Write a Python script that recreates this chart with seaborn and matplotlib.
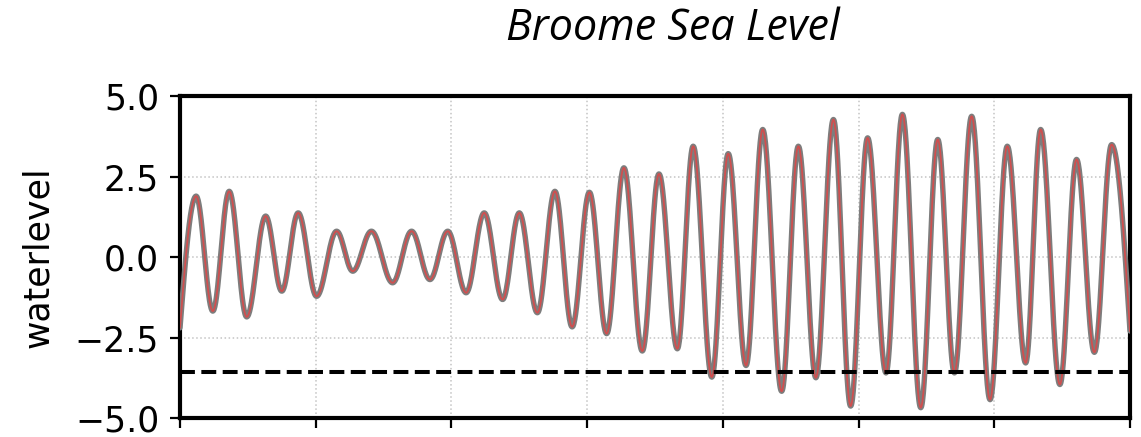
import numpy as np
import pandas as pd
import matplotlib
matplotlib.use("Agg")
import matplotlib.pyplot as plt
import seaborn as sns

# Successive high / low water turning points: hours since start, level (m)
turn_hours = [0.0, 5.7, 11.6, 17.4, 23.6, 30.3, 36.0, 41.8, 48.3, 55.4,
              61.1, 67.7, 75.2, 81.9, 88.4, 94.7, 101.2, 107.6, 114.1, 120.0,
              126.4, 132.6, 138.7, 144.8, 150.9, 157.0, 163.5, 169.4, 175.9, 181.5,
              188.1, 193.9, 200.2, 206.1, 212.8, 218.7, 224.9, 231.1, 237.2, 243.2,
              249.7, 255.5, 262.0, 268.0, 273.9, 280.0, 286.5, 292.6, 299.1, 304.4,
              311.2, 317.1, 323.4, 329.5, 336.0]
turn_levels = [-2.20, 1.89, -1.68, 2.04, -1.86, 1.27, -1.06, 1.37, -1.22, 0.80,
               -0.44, 0.80, -0.80, 0.80, -0.70, 0.80, -1.11, 1.37, -1.32, 1.37,
               -1.73, 2.04, -2.17, 2.01, -2.38, 2.77, -2.92, 2.58, -2.85, 3.44,
               -3.73, 3.21, -3.37, 3.96, -4.17, 3.44, -3.75, 4.27, -4.63, 3.70,
               -3.60, 4.43, -4.68, 3.65, -3.60, 4.37, -4.43, 3.44, -3.29, 3.96,
               -3.96, 3.03, -2.96, 3.49, -2.30]

low_water_mark = -3.57
y_ticks = [-5.0, -2.5, 0.0, 2.5, 5.0]
x_ticks = [0, 48, 96, 144, 192, 240, 288, 336]


def tide_curve(hours, levels, n=40):
    """Smooth tide trace: cosine shaped swing between successive turning points."""
    hs, vs = [], []
    last = len(hours) - 2
    for i in range(len(hours) - 1):
        h0, h1 = hours[i], hours[i + 1]
        v0, v1 = levels[i], levels[i + 1]
        t = np.linspace(0.0, 1.0, n, endpoint=(i == last))
        if i == 0:
            shape = np.sin(0.5 * np.pi * t)
        elif i == last:
            shape = 1.0 - np.cos(0.5 * np.pi * t)
        else:
            shape = 0.5 * (1.0 - np.cos(np.pi * t))
        hs.append(h0 + (h1 - h0) * t)
        vs.append(v0 + (v1 - v0) * shape)
    return np.concatenate(hs), np.concatenate(vs)


hrs, lvl = tide_curve(turn_hours, turn_levels)
df = pd.DataFrame({"hour": hrs, "waterlevel": lvl})

sns.set_style("white")
plt.rcParams["font.family"] = ["DejaVu Sans"]
plt.rcParams["text.color"] = "black"
plt.rcParams["axes.labelcolor"] = "black"
plt.rcParams["xtick.color"] = "black"
plt.rcParams["ytick.color"] = "black"

fig = plt.figure(figsize=(11.41, 4.37), dpi=100)
ax = fig.add_axes([180 / 1141, 1 - 418 / 437, 950 / 1141, 322 / 437])

sns.lineplot(data=df, x="hour", y="waterlevel", ax=ax, color="#7d7d7d",
             linewidth=3.9, sort=False, estimator=None, zorder=3)
sns.lineplot(data=df, x="hour", y="waterlevel", ax=ax, color="#d94a4a",
             linewidth=1.3, sort=False, estimator=None, zorder=4, alpha=0.9)
ax.axhline(low_water_mark, color="black", linestyle="--", linewidth=2.9, zorder=5)

ax.set_xlim(x_ticks[0], x_ticks[-1])
ax.set_ylim(-5.0, 5.0)
ax.set_xticks(x_ticks)
ax.set_xticklabels([])
ax.set_yticks(y_ticks)
ax.set_yticklabels([f"{v:.1f}".replace("-", "\u2212") for v in y_ticks])
ax.set_xlabel("")
ax.set_ylabel("waterlevel", fontsize=25, color="black")
ax.yaxis.set_label_coords(-0.132, 0.5)

ax.grid(True, linestyle=":", color="#c4c4c4", linewidth=1.1)
for sp in ax.spines.values():
    sp.set_visible(True)
    sp.set_color("black")
    sp.set_linewidth(3.0)
ax.tick_params(axis="both", which="major", direction="out", length=7,
               width=1.6, color="black", labelcolor="black", labelsize=25,
               pad=8, left=True, bottom=True)

fig.text(673 / 1141, 1 - 40 / 437, "Broome Sea Level", ha="center",
         va="baseline", fontsize=31, style="italic", color="black",
         family=["Open Sans"])

fig.savefig("out.png", dpi=100)
